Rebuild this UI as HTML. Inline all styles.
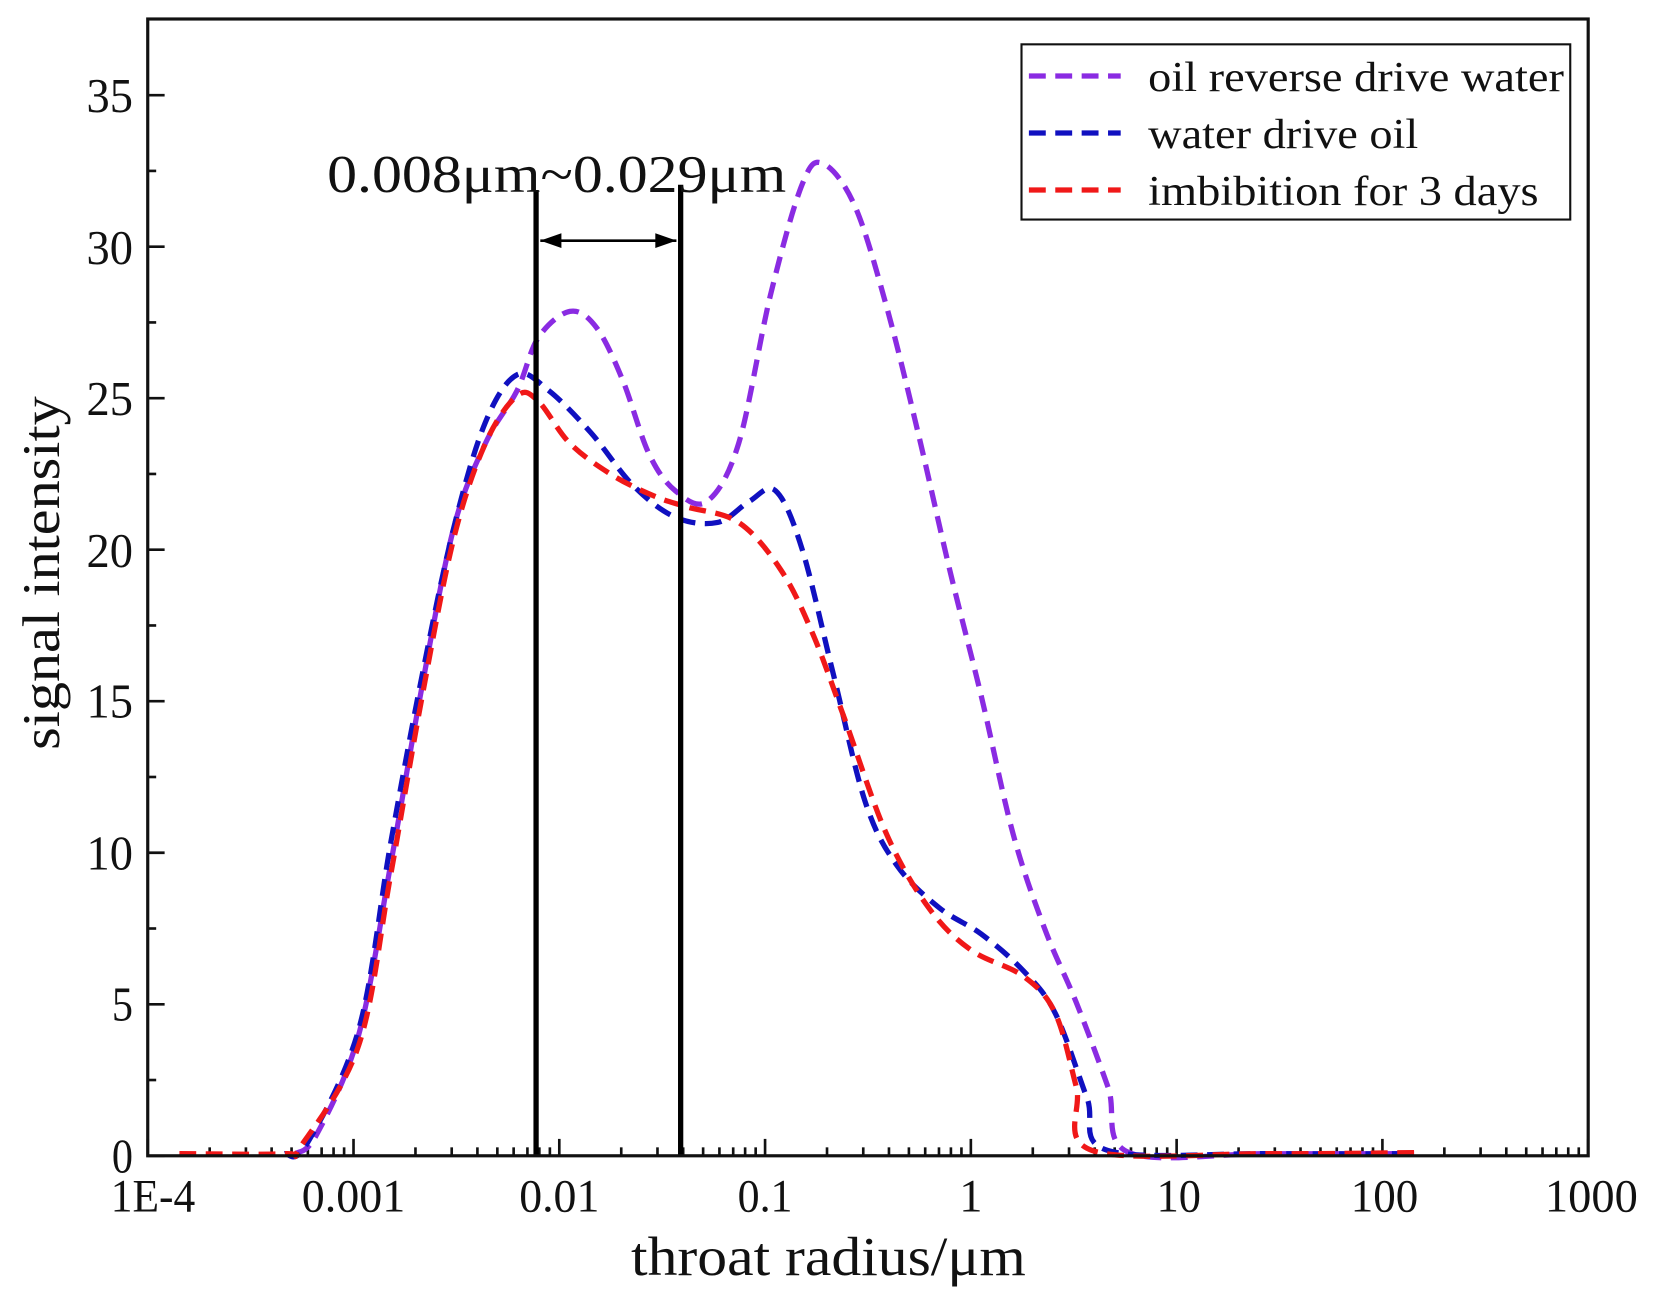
<!DOCTYPE html>
<html><head><meta charset="utf-8"><style>
html,body{margin:0;padding:0;background:#fff;}
svg{display:block;}
text{font-family:"Liberation Serif",serif;fill:#111;}
</style></head><body>
<svg id="s" width="1661" height="1312" viewBox="0 0 1574 1243" preserveAspectRatio="none" xmlns="http://www.w3.org/2000/svg">
<rect x="0" y="0" width="1574" height="1243" fill="#fff"/>
<g id="ticks" stroke="#111" stroke-width="2.5"></g>
<g id="curves" fill="none" stroke-width="5" stroke-dasharray="16,9"></g>
<line x1="508" y1="180" x2="508" y2="1095" stroke="#000" stroke-width="5"/>
<line x1="645" y1="175" x2="645" y2="1095" stroke="#000" stroke-width="5"/>
<line x1="512" y1="228" x2="641" y2="228" stroke="#000" stroke-width="2.5"/>
<polygon points="512,228 532,221 532,235" fill="#000"/>
<polygon points="641,228 621,221 621,235" fill="#000"/>
<text x="310" y="182" font-size="50" textLength="435" lengthAdjust="spacingAndGlyphs">0.008μm~0.029μm</text>
<rect x="140" y="18" width="1365" height="1077" fill="none" stroke="#111" stroke-width="3"/>
<rect x="968" y="42" width="520" height="166" fill="#fff" stroke="#111" stroke-width="2"/>
<line x1="975" y1="72" x2="1062" y2="72" stroke="#8a2be2" stroke-width="5" stroke-dasharray="16,9"/>
<line x1="975" y1="126" x2="1062" y2="126" stroke="#1010c0" stroke-width="5" stroke-dasharray="16,9"/>
<line x1="975" y1="180" x2="1062" y2="180" stroke="#f01818" stroke-width="5" stroke-dasharray="16,9"/>
<text x="1088" y="86" font-size="40" textLength="394" lengthAdjust="spacingAndGlyphs">oil reverse drive water</text>
<text x="1088" y="140" font-size="40" textLength="256" lengthAdjust="spacingAndGlyphs">water drive oil</text>
<text x="1088" y="194" font-size="40" textLength="370" lengthAdjust="spacingAndGlyphs">imbibition for 3 days</text>
<g font-size="46" text-anchor="end">
<text x="126" y="1111" textLength="20" lengthAdjust="spacingAndGlyphs">0</text><text x="126" y="967" textLength="20" lengthAdjust="spacingAndGlyphs">5</text><text x="126" y="824" textLength="44" lengthAdjust="spacingAndGlyphs">10</text>
<text x="126" y="680" textLength="44" lengthAdjust="spacingAndGlyphs">15</text><text x="126" y="537" textLength="44" lengthAdjust="spacingAndGlyphs">20</text><text x="126" y="393" textLength="44" lengthAdjust="spacingAndGlyphs">25</text>
<text x="126" y="250" textLength="44" lengthAdjust="spacingAndGlyphs">30</text><text x="126" y="106" textLength="44" lengthAdjust="spacingAndGlyphs">35</text>
</g>
<g font-size="44" text-anchor="middle">
<text x="145" y="1148" textLength="80" lengthAdjust="spacingAndGlyphs">1E-4</text><text x="335" y="1148" textLength="98" lengthAdjust="spacingAndGlyphs">0.001</text><text x="530" y="1148" textLength="76" lengthAdjust="spacingAndGlyphs">0.01</text>
<text x="725" y="1148" textLength="52" lengthAdjust="spacingAndGlyphs">0.1</text><text x="920" y="1148">1</text><text x="1117" y="1148" textLength="42" lengthAdjust="spacingAndGlyphs">10</text>
<text x="1312" y="1148" textLength="64" lengthAdjust="spacingAndGlyphs">100</text><text x="1508" y="1148" textLength="88" lengthAdjust="spacingAndGlyphs">1000</text>
</g>
<text x="598" y="1208" font-size="52" textLength="374" lengthAdjust="spacingAndGlyphs">throat radius/μm</text>
<text transform="translate(56,543) rotate(-90)" font-size="50" text-anchor="middle" textLength="335" lengthAdjust="spacingAndGlyphs">signal intensity</text>
</svg>
<script>
var NS="http://www.w3.org/2000/svg",tk=document.getElementById('ticks');
function L(a,b,c,d){var l=document.createElementNS(NS,'line');l.setAttribute('x1',a);l.setAttribute('y1',b);l.setAttribute('x2',c);l.setAttribute('y2',d);tk.appendChild(l);}
for(var v=0;v<=35;v+=2.5){var y=1095-v*28.71;L(140,y,140+(v%5==0?16:8),y);}
for(var d=0;d<7;d++){var x0=140+d*195;L(x0,1095,x0,1079);for(var k=2;k<10;k++){var x=x0+Math.log10(k)*195;L(x,1095,x,1087);}}
L(1505,1095,1505,1079);
function path(p){var s="M"+p[0][0]+","+p[0][1];for(var i=0;i<p.length-1;i++){var a=p[i-1]||p[i],b=p[i],c=p[i+1],d=p[i+2]||c;
s+=" C"+(b[0]+(c[0]-a[0])/6)+","+(b[1]+(c[1]-a[1])/6)+" "+(c[0]-(d[0]-b[0])/6)+","+(c[1]-(d[1]-b[1])/6)+" "+c[0]+","+c[1];}return s;}
var cv=document.getElementById('curves');
function C(col,p){var e=document.createElementNS(NS,'path');e.setAttribute('d',path(p));e.setAttribute('stroke',col);cv.appendChild(e);}
C('#8a2be2',[[280,1093],[300,1075],[340,980],[370,820],[400,650],[430,500],[460,420],[490,370],[510,320],[540,295],[565,310],[590,360],[615,430],[640,465],[670,475],[700,420],[730,280],[760,175],[780,155],[810,195],[840,290],[870,410],[900,540],[930,660],[960,790],[990,880],[1020,950],[1050,1030],[1070,1092],[1200,1093],[1340,1093]]);
C('#1010c0',[[270,1093],[290,1085],[340,975],[370,800],[400,640],[430,500],[460,400],[490,355],[520,370],[560,410],[600,460],[640,490],[680,495],[710,475],[735,465],[760,520],[790,640],[820,760],[850,820],[890,860],[930,885],[970,920],[1000,960],[1030,1040],[1050,1090],[1200,1093],[1340,1093]]);
C('#f01818',[[170,1093],[270,1093],[285,1086],[340,990],[370,830],[400,660],[430,510],[460,420],[490,375],[510,380],[540,420],[580,450],[620,470],[650,480],[700,495],[740,540],[770,600],[800,680],[840,790],[880,860],[920,900],[970,925],[1000,960],[1020,1030],[1035,1090],[1200,1093],[1340,1092]]);
</script>
</body></html>
